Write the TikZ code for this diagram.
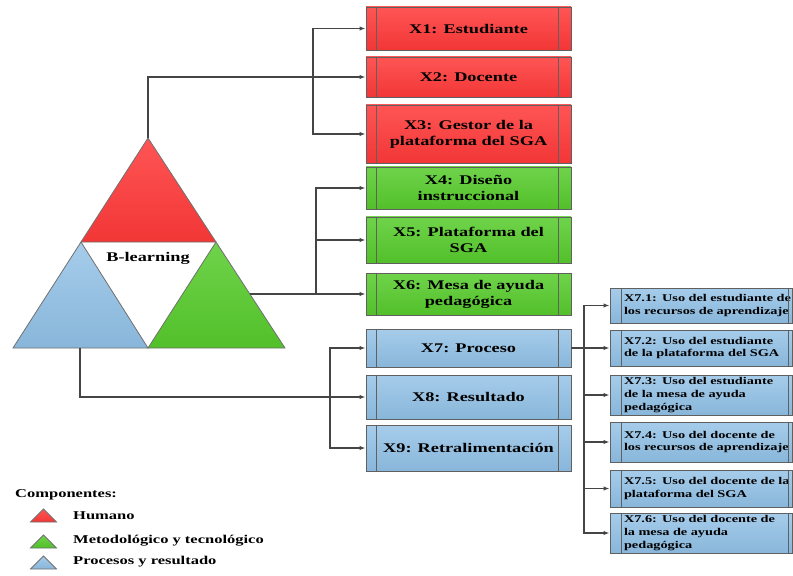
\documentclass[tikz,border=0pt]{standalone}
\usepackage{fontspec}
\setmainfont{Liberation Serif}[FakeStretch=1.38]
\usetikzlibrary{arrows.meta}
\definecolor{redA}{HTML}{FF5555}
\definecolor{redB}{HTML}{F23636}
\definecolor{greenA}{HTML}{6FD34A}
\definecolor{greenB}{HTML}{52C02A}
\definecolor{blueA}{HTML}{A6CCEA}
\definecolor{blueB}{HTML}{88B6DA}
\definecolor{boxline}{HTML}{606060}
\definecolor{conncol}{HTML}{454545}
\definecolor{tribord}{HTML}{707070}
\begin{document}
\begin{tikzpicture}[x=1bp,y=-1bp,
  box/.style={draw=boxline, line width=0.9bp, minimum width=205bp, inner sep=0pt, align=center,
    font=\bfseries\fontsize{13.3}{16}\selectfont},
  subbox/.style={draw=boxline, line width=0.9bp, minimum width=182bp, text width=154bp, inner xsep=14bp, inner ysep=0pt, align=left,
    font=\bfseries\fontsize{10.4}{13}\selectfont, top color=blueA, bottom color=blueB},
  redbox/.style={box, top color=redA, bottom color=redB},
  greenbox/.style={box, top color=greenA, bottom color=greenB},
  bluebox/.style={box, top color=blueA, bottom color=blueB},
  barline/.style={draw=boxline, line width=0.8bp},
  conn/.style={draw=conncol, line width=1.2bp, -{Latex[length=6bp,width=4.5bp]}},
  tri/.style={draw=tribord, line width=0.8bp},
  legtext/.style={font=\bfseries\fontsize{12}{14}\selectfont, anchor=west, inner sep=0pt}
]
\useasboundingbox (0,0) rectangle (793,576);

% main triangle
\shade[top color=redA, bottom color=redB] (148,138) -- (81,242) -- (216,242) -- cycle;
\draw[tri] (148,138) -- (81,242) -- (216,242) -- cycle;
\shade[top color=blueA, bottom color=blueB] (81,242) -- (13,348) -- (148,348) -- cycle;
\draw[tri] (81,242) -- (13,348) -- (148,348) -- cycle;
\shade[top color=greenA, bottom color=greenB] (216,242) -- (148,348) -- (285,348) -- cycle;
\draw[tri] (216,242) -- (148,348) -- (285,348) -- cycle;
\node[font=\bfseries\fontsize{13.3}{16}\selectfont, inner sep=0pt] (bl) at (148,258) {B-learning};

\coordinate (apex) at (148,138);
\coordinate (gout) at (250,294);
\coordinate (bout) at (80,348);

% top boxes
\node[redbox, minimum height=43bp] (x1) at (468.5,28.5) {X1: Estudiante};
\node[redbox, minimum height=40bp] (x2) at (468.5,77) {X2: Docente};
\node[redbox, minimum height=58bp] (x3) at (468.5,134) {X3: Gestor de la\\plataforma del SGA};
\node[greenbox, minimum height=42bp] (x4) at (468.5,188) {X4: Diseño\\instruccional};
\node[greenbox, minimum height=46bp] (x5) at (468.5,240) {X5: Plataforma del\\SGA};
\node[greenbox, minimum height=42bp] (x6) at (468.5,294) {X6: Mesa de ayuda\\pedagógica};
\node[bluebox, minimum height=38bp] (x7) at (468.5,348) {X7: Proceso};
\node[bluebox, minimum height=44bp] (x8) at (468.5,397) {X8: Resultado};
\node[bluebox, minimum height=46bp] (x9) at (468.5,448) {X9: Retralimentación};
\foreach \n in {x1,x2,x3,x4,x5,x6,x7,x8,x9}{
  \draw[barline] ([xshift=11bp]\n.north west) -- ([xshift=11bp]\n.south west);
  \draw[barline] ([xshift=-13bp]\n.north east) -- ([xshift=-13bp]\n.south east);
}

% sub boxes
\node[subbox, minimum height=35bp] (s1) at (701,305.5) {\mbox{X7.1: Uso del estudiante de}\\\mbox{los recursos de aprendizaje}};
\node[subbox, minimum height=36bp] (s2) at (701,348) {\mbox{X7.2: Uso del estudiante}\\\mbox{de la plataforma del SGA}};
\node[subbox, minimum height=40bp] (s3) at (701,395) {\mbox{X7.3: Uso del estudiante}\\\mbox{de la mesa de ayuda}\\\mbox{pedagógica}};
\node[subbox, minimum height=40bp] (s4) at (701,442) {\mbox{X7.4: Uso del docente de}\\\mbox{los recursos de aprendizaje}};
\node[subbox, minimum height=37bp] (s5) at (701,488.5) {\mbox{X7.5: Uso del docente de la}\\\mbox{plataforma del SGA}};
\node[subbox, minimum height=40bp] (s6) at (701,533) {\mbox{X7.6: Uso del docente de}\\\mbox{la mesa de ayuda}\\\mbox{pedagógica}};
\foreach \n in {s1,s2,s3,s4,s5,s6}{
  \draw[barline] ([xshift=12bp]\n.north west) -- ([xshift=12bp]\n.south west);
  \draw[barline] ([xshift=-4bp]\n.north east) -- ([xshift=-4bp]\n.south east);
}

% red connectors
\coordinate (rb) at (313,77);
\draw[conn] (apex) |- (x2.west);
\draw[conn] (rb) |- (x1.west);
\draw[conn] (rb) |- (x3.west);

% green connectors
\coordinate (gb) at (316,294);
\draw[conn] (gout) -- (x6.west);
\draw[conn] (gb) |- (x4.west);
\draw[conn] (gb) |- (x5.west);

% blue connectors
\coordinate (bb) at (330,397);
\draw[conn] (bout) |- (x8.west);
\draw[conn] (bb) |- (x7.west);
\draw[conn] (bb) |- (x9.west);

% X7 sub connectors
\coordinate (sb) at (584,348);
\draw[conn] (x7.east) -- (s2.west);
\draw[conn] (sb) |- (s1.west);
\draw[conn] (sb) |- (s3.west);
\draw[conn] (sb) |- (s4.west);
\draw[conn] (sb) |- (s5.west);
\draw[conn] (sb) |- (s6.west);

% legend
\node[legtext] (lc) at (15,495) {Componentes:};
\shade[top color=redA, bottom color=redB] (43.5,509) -- (30.5,522) -- (56.5,522) -- cycle;
\draw[tri] (43.5,509) -- (30.5,522) -- (56.5,522) -- cycle;
\shade[top color=greenA, bottom color=greenB] (43.5,535) -- (30.5,548) -- (56.5,548) -- cycle;
\draw[tri] (43.5,535) -- (30.5,548) -- (56.5,548) -- cycle;
\shade[top color=blueA, bottom color=blueB] (43.5,556) -- (30.5,569) -- (56.5,569) -- cycle;
\draw[tri] (43.5,556) -- (30.5,569) -- (56.5,569) -- cycle;
\node[legtext] (lh) at (73,515.5) {Humano};
\node[legtext] (lm) at (73,541) {Metodológico y tecnológico};
\node[legtext] (lp) at (73,562) {Procesos y resultado};
\end{tikzpicture}
\end{document}
